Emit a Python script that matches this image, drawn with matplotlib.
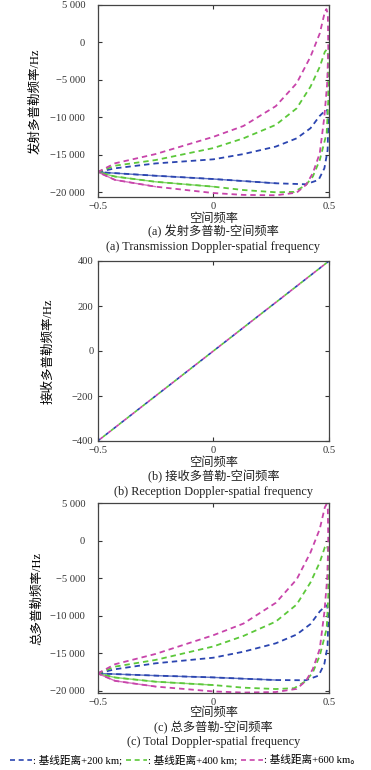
import numpy as np
import matplotlib
matplotlib.use('Agg')
import matplotlib.pyplot as plt
from matplotlib.ticker import FuncFormatter
from matplotlib.lines import Line2D

plt.rcParams['font.family'] = ['Liberation Serif', 'Noto Sans CJK SC']

# series
names = [': 基线距离+200 km;', ': 基线距离+400 km;', ': 基线距离+600 km。']
colors = ['#2b45b0', '#5cc83a', '#c844aa']

# (a) transmission doppler, closed loops: upper branch out, lower branch back
tx_blue = [-0.5, -0.425, -0.25, 0, 0.13, 0.27, 0.36, 0.42, 0.46, 0.48, 0.492,
           0.497, 0.494, 0.48, 0.455, 0.40, 0.27, 0.13, 0, -0.25, -0.5]
ty_blue = [-17300, -16800, -16150, -15600, -14900, -13900, -12800, -11450, -9800, -9200, -9000,
           -10400, -14400, -16800, -18350, -18930, -18800, -18500, -18230, -17790, -17300]
tx_green = [-0.5, -0.425, -0.25, 0, 0.13, 0.27, 0.36, 0.42, 0.46, 0.482, 0.49,
            0.495, 0.497, 0.49, 0.46, 0.43, 0.40, 0.35, 0.27, 0.13, 0, -0.25, -0.425, -0.5]
ty_green = [-17300, -16450, -15700, -14100, -12800, -11000, -8800, -5900, -3250, -1250, -950,
            -1500, -7700, -12100, -15700, -17900, -19030, -19950, -20000, -19700, -19250, -18600, -17900, -17300]
tx_mag = [-0.5, -0.425, -0.25, 0, 0.13, 0.27, 0.36, 0.42, 0.46, 0.482, 0.489,
          0.495, 0.497, 0.492, 0.48, 0.46, 0.43, 0.40, 0.36, 0.27, 0.13, 0, -0.25, -0.425, -0.5]
ty_mag = [-17300, -16130, -14900, -12600, -11150, -8500, -5450, -1900, 1200, 4080, 4450,
          3800, -1000, -5500, -9900, -14800, -17450, -19030, -20050, -20400, -20350, -20100, -19250, -18350, -17300]

# (b) reception doppler
rx = [-0.5, -0.25, 0, 0.25, 0.5]
ry_blue = [-400, -200, 0, 200, 400]
ry_green = [-400, -200, 0, 200, 400]
ry_mag = [-400, -200, 0, 200, 400]

# (c) total doppler
sx_blue = tx_blue
sy_blue = [-17700, -17140, -16350, -15600, -14800, -13680, -12510, -11110, -9430, -8820, -8600,
           -10000, -14000, -16420, -17990, -18610, -18580, -18400, -18230, -17990, -17700]
sx_green = tx_green
sy_green = [-17700, -16790, -15900, -14100, -12700, -10780, -8510, -5560, -2880, -860, -560,
            -1100, -7300, -11710, -15330, -17560, -18710, -19670, -19780, -19600, -19250, -18800, -18240, -17700]
sx_mag = tx_mag
sy_mag = [-17700, -16470, -15100, -12600, -11050, -8280, -5160, -1560, 1570, 4470, 4850,
          4200, -600, -5100, -9520, -14430, -17110, -18710, -19760, -20180, -20250, -20100, -19450, -18690, -17700]

# lower branch drawn solid up to this x
solid_until = [0.33, 0.09, -0.04]

W, H = 371, 770
fig = plt.figure(figsize=(W/100, H/100), dpi=100)

def px_axes(left, right, top, bottom):
    return fig.add_axes([left/W, 1-bottom/H, (right-left)/W, (bottom-top)/H])

def thou(v, pos):
    s = '{:,.0f}'.format(abs(v)).replace(',', ' ')
    return ('\u2212' if v < 0 else '') + s

def xfmt(v, pos):
    if abs(v) < 1e-9:
        return '0'
    return ('\u2212' if v < 0 else '') + '{:g}'.format(abs(v))

def style(ax, ypad):
    ax.set_xlim(-0.5, 0.5)
    ax.set_xticks([-0.5, 0, 0.5])
    ax.xaxis.set_major_formatter(FuncFormatter(xfmt))
    ax.tick_params(direction='in', top=True, right=True, length=3, width=0.8,
                   labelsize=7.6, colors='#333333')
    ax.tick_params(axis='x', pad=3.5)
    ax.tick_params(axis='y', pad=ypad)
    for s in ax.spines.values():
        s.set_color('#444444')
        s.set_linewidth(0.9)

def loops(ax, xs, ys):
    for (x, y), c, lim in zip(zip(xs, ys), colors, solid_until):
        x = np.array(x); y = np.array(y)
        k = int(np.argmax(x))
        lx, ly = x[k:], y[k:]
        m = lx <= lim
        ax.plot(lx[m], ly[m], color=c, lw=1.0, alpha=0.75)
        ax.plot(x, y, color=c, lw=1.3, dashes=(3, 2.2))

ax1 = px_axes(97.7, 329, 5, 196.7)
loops(ax1, [tx_blue, tx_green, tx_mag], [ty_blue, ty_green, ty_mag])
ax1.set_ylim(-20590, 5000)
ax1.set_yticks(np.arange(-20000, 5001, 5000))
ax1.yaxis.set_major_formatter(FuncFormatter(thou))
style(ax1, 9)
ax1.set_ylabel('发射多普勒频率/Hz', fontsize=9, va='center')
ax1.yaxis.set_label_coords((35-97.7)/231.3, 0.5)

ax2 = px_axes(97.7, 329, 261, 441)
for i, (y, c) in enumerate(zip([ry_blue, ry_green, ry_mag], colors)):
    ax2.plot(rx, y, color=c, lw=1.2, linestyle=(2*i, (2, 4)))
ax2.set_ylim(-400, 400)
ax2.set_yticks([-400, -200, 0, 200, 400])
ax2.yaxis.set_major_formatter(FuncFormatter(thou))
style(ax2, 3)
ax2.set_ylabel('接收多普勒频率/Hz', fontsize=9, va='center')
ax2.yaxis.set_label_coords((48-97.7)/231.3, 0.5)

ax3 = px_axes(97.7, 329, 503.3, 693.3)
loops(ax3, [sx_blue, sx_green, sx_mag], [sy_blue, sy_green, sy_mag])
ax3.set_ylim(-20350, 5000)
ax3.set_yticks(np.arange(-20000, 5001, 5000))
ax3.yaxis.set_major_formatter(FuncFormatter(thou))
style(ax3, 9)
ax3.set_ylabel('总多普勒频率/Hz', fontsize=9, va='center')
ax3.yaxis.set_label_coords((37-97.7)/231.3, 0.5)

cx = (97.7 + 329) / 2 / W
texts = [
    (219, '空间频率'), (232, '(a) 发射多普勒-空间频率'), (247, '(a) Transmission Doppler-spatial frequency'),
    (463, '空间频率'), (477, '(b) 接收多普勒-空间频率'), (492, '(b) Reception Doppler-spatial frequency'),
    (713, '空间频率'), (728, '(c) 总多普勒-空间频率'), (742, '(c) Total Doppler-spatial frequency'),
]
for y, t in texts:
    fig.text(cx, 1 - y/H, t, ha='center', va='center', fontsize=8.8, color='#222222')

handles = [Line2D([], [], color=c, lw=1.2, dashes=(3, 2.2)) for c in colors]
fig.legend(handles, names, loc='center', bbox_to_anchor=(0.5, 1 - 760/H), ncol=3,
           frameon=False, fontsize=7.7, handlelength=2.0, handletextpad=0.1,
           columnspacing=0.35, borderaxespad=0, borderpad=0)

fig.savefig('out.png', dpi=100)
